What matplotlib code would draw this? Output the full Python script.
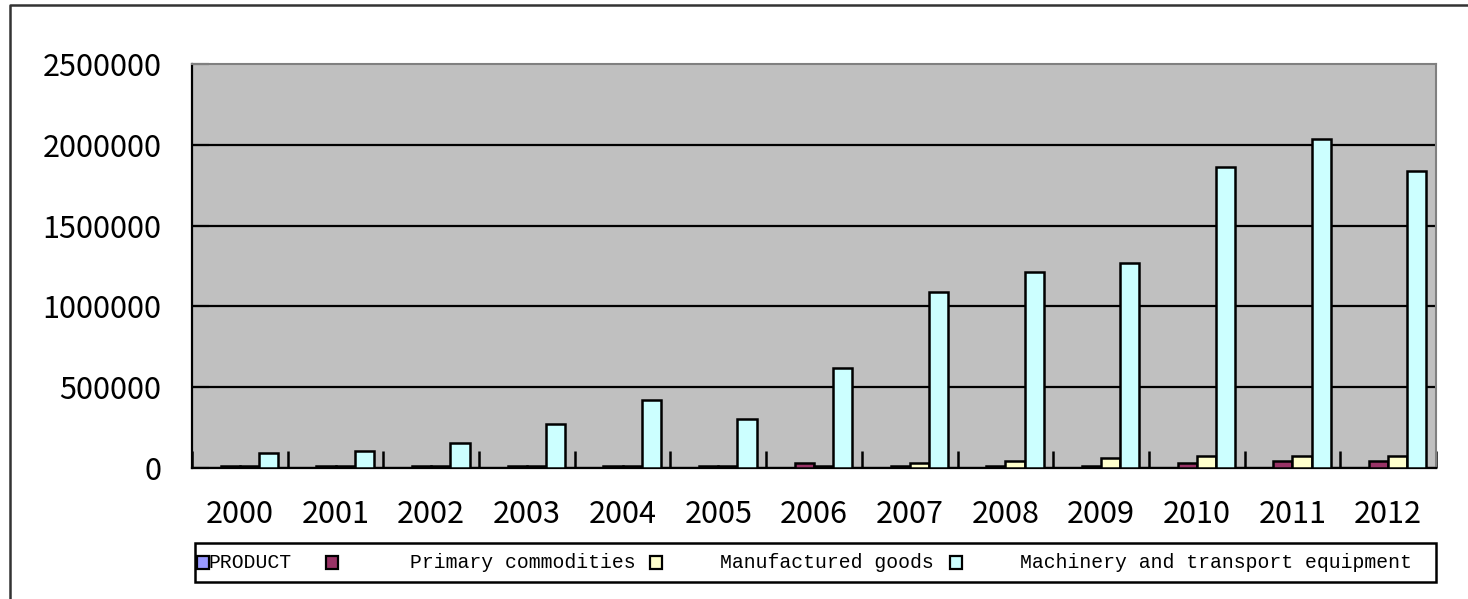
import numpy as np
import matplotlib
matplotlib.use('Agg')
import matplotlib.pyplot as plt
from matplotlib.patches import Rectangle
from matplotlib.lines import Line2D

years = [str(y) for y in range(2000, 2013)]
series_names = ['PRODUCT', 'Primary commodities', 'Manufactured goods',
                'Machinery and transport equipment']
product = [0] * 13
primary = [12000, 12000, 12000, 12000, 12000, 12000, 33000, 12000, 12000, 14000, 29000, 43000, 43000]
manufactured = [12000, 12000, 12000, 12000, 12000, 12000, 12000, 33000, 45000, 60000, 74000, 74000, 74000]
machinery = [95000, 107000, 153000, 272000, 421000, 301000, 619000,
             1089000, 1213000, 1269000, 1864000, 2033000, 1835000]
colors = ['#9999FF', '#993366', '#FFFFCC', '#CCFFFF']

W, H = 1468, 599


def fx(px):
    return px / W


def fy(py):
    return 1 - py / H


fig = plt.figure(figsize=(W / 100, H / 100), dpi=100)
ax = fig.add_axes([fx(192), fy(468), fx(1436) - fx(192), fy(64) - fy(468)])
ax.set_facecolor('#C0C0C0')

x = np.arange(len(years))
width = 0.2
for i, (vals, color) in enumerate(zip([product, primary, manufactured, machinery], colors)):
    lw = [1.8 if v > 0 else 0 for v in vals]
    ax.bar(x + (i - 1.5) * width, vals, width, color=color,
           edgecolor='black', linewidth=lw, zorder=3)

ax.set_xlim(-0.5, len(years) - 0.5)
ax.set_ylim(0, 2500000)

num_font = dict(family='Noto Sans CJK SC', size=22)

# y axis
ax.set_yticks(range(0, 2500001, 500000))
ax.set_yticklabels([str(v) for v in range(0, 2500001, 500000)], fontdict=num_font)
ax.tick_params(axis='y', direction='in', length=12, width=1.5, color='black', pad=22)

# x axis: ticks between categories, labels at centres
ax.set_xticks(np.arange(-0.5, len(years), 1))
ax.set_xticklabels([])
ax.set_xticks(x, minor=True)
ax.set_xticklabels(years, minor=True, fontdict=num_font)
ax.tick_params(axis='x', which='major', direction='in', length=12, width=1.8, color='black')
ax.tick_params(axis='x', which='minor', length=0, pad=22)

ax.yaxis.grid(True, color='black', linewidth=1.6, zorder=1)
ax.set_axisbelow(True)
ax.get_ygridlines()[-1].set_visible(False)

for side in ['left', 'bottom']:
    ax.spines[side].set_color('black')
    ax.spines[side].set_linewidth(1.6)
for side in ['top', 'right']:
    ax.spines[side].set_color('#808080')
    ax.spines[side].set_linewidth(1.5)

# legend strip along the bottom
fig.add_artist(Rectangle((fx(195), fy(582)), fx(1436) - fx(195), fy(543) - fy(582),
                         transform=fig.transFigure, fill=False,
                         edgecolor='black', linewidth=1.8))
handle_px = [197, 326, 650, 950]
text_px = [209, 410, 720, 1020]
for name, color, hx, tx in zip(series_names, colors, handle_px, text_px):
    fig.add_artist(Rectangle((fx(hx), fy(569)), fx(hx + 12) - fx(hx), fy(556) - fy(569),
                             transform=fig.transFigure, facecolor=color,
                             edgecolor='black', linewidth=1.6))
    fig.text(fx(tx), fy(562), name, family='Liberation Mono', size=14.2,
             va='center', ha='left', color='black')

# outer chart border
fig.add_artist(Line2D([fx(10), fx(10), 1], [0, fy(5), fy(5)],
                      transform=fig.transFigure, color='#333333', linewidth=1.8))

fig.savefig('out.png', dpi=100)
